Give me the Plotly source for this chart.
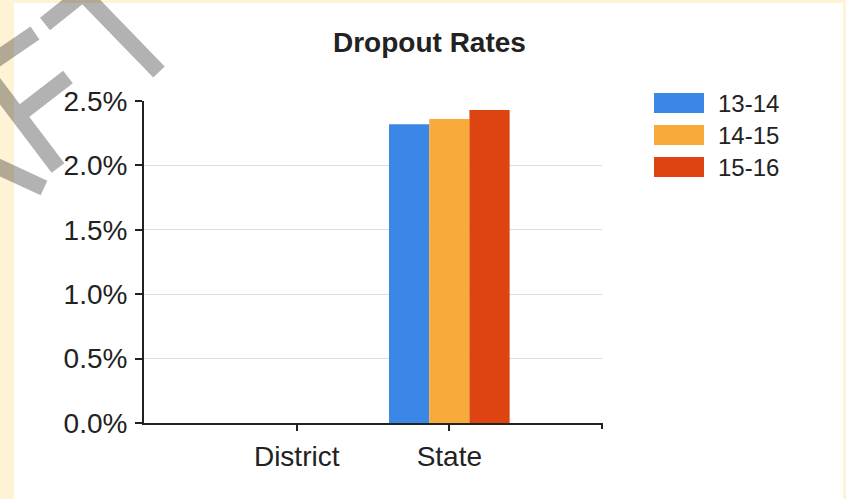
import plotly.graph_objects as go

# ---- data ----
categories = ["District", "State"]
series_names = ["13-14", "14-15", "15-16"]
rate_13_14 = [None, 0.0232]
rate_14_15 = [None, 0.0236]
rate_15_16 = [None, 0.0243]
series_values = [rate_13_14, rate_14_15, rate_15_16]
series_colors = ["#3b87e8", "#f8ab3b", "#dd4411"]
y_ticks = [0, 0.005, 0.010, 0.015, 0.020, 0.025]

W, H = 846, 499
L, R, T, B = 144, 244, 101, 76
PW, PH = W - L - R, H - T - B

def px(x):
    return (x - L) / PW

def py(y):
    return (H - B - y) / PH

FONT = "Liberation Sans, Arial, sans-serif"
CREAM = "#fff3d6"

fig = go.Figure()
for name, vals, col in zip(series_names, series_values, series_colors):
    fig.add_trace(go.Bar(x=categories, y=vals, name=name,
                         marker=dict(color=col, line=dict(width=0)),
                         showlegend=False))

shapes = []
annotations = []

# white panel over cream page
shapes.append(dict(type="rect", xref="paper", yref="paper", layer="below",
                   x0=px(14), x1=px(843), y0=py(3), y1=py(499),
                   fillcolor="white", line=dict(width=0)))

# tick at right end of x axis
shapes.append(dict(type="line", xref="paper", yref="paper",
                   x0=1, x1=1, y0=0, y1=-6 / PH,
                   line=dict(color="#222222", width=2)))

# custom legend
box_tops = [93, 125, 157]
for name, col, top in zip(series_names, series_colors, box_tops):
    shapes.append(dict(type="rect", xref="paper", yref="paper",
                       x0=px(654), x1=px(704), y0=py(top), y1=py(top + 20),
                       fillcolor=col, line=dict(width=0)))
    annotations.append(dict(text=name, xref="paper", yref="paper",
                            x=px(716), y=py(top + 10), xanchor="left",
                            yanchor="middle", showarrow=False,
                            font=dict(family=FONT, size=24, color="#222222")))

# title
annotations.append(dict(text="<b>Dropout Rates</b>", xref="paper", yref="paper",
                        x=px(429), y=py(42), xanchor="center", yanchor="middle",
                        showarrow=False,
                        font=dict(family=FONT, size=28, color="#222222")))

# watermark stripes (one path so overlaps do not double-darken)
wm = [((45, 24), (100, -20)),
      ((65, -25), (159, 72)),
      ((35, 33), (-15, 67)),
      ((68, 77), (20, 114)),
      ((-10, 78), (58, 168)),
      ((-10, 163), (44, 188))]
path = " ".join("M%.5f,%.5f L%.5f,%.5f" % (px(a[0]), py(a[1]), px(b[0]), py(b[1]))
                for a, b in wm)
shapes.append(dict(type="path", xref="paper", yref="paper", layer="above",
                   path=path, line=dict(color="rgba(0,0,0,0.3)", width=16)))

fig.update_layout(
    width=W, height=H,
    margin=dict(l=L, r=R, t=T, b=B, pad=0),
    paper_bgcolor=CREAM,
    plot_bgcolor="rgba(0,0,0,0)",
    barmode="group", bargap=0.21, bargroupgap=0,
    showlegend=False,
    font=dict(family=FONT, size=28, color="#222222"),
    shapes=shapes, annotations=annotations,
    xaxis=dict(type="category", categoryorder="array", categoryarray=categories,
               range=[-1, 2], showgrid=False, showline=True, linecolor="#222222",
               linewidth=2, ticks="outside", ticklen=6, tickwidth=2,
               tickcolor="#222222", ticklabelstandoff=1,
               tickfont=dict(family=FONT, size=28, color="#222222"),
               zeroline=False, fixedrange=True),
    yaxis=dict(range=[0, 0.025], tickvals=y_ticks, tickformat=".1%",
               showgrid=True, gridcolor="#dcdcdc", gridwidth=1,
               showline=True, linecolor="#222222", linewidth=2,
               ticks="outside", ticklen=7, tickwidth=2, tickcolor="#222222",
               ticklabelstandoff=2,
               tickfont=dict(family=FONT, size=28, color="#222222"),
               zeroline=False, fixedrange=True),
)

fig.write_html("out.html", config={"displayModeBar": False},
               post_script="document.body.style.margin='0';"
                           "document.body.style.overflow='hidden';"
                           "document.body.style.background='" + CREAM + "';")
